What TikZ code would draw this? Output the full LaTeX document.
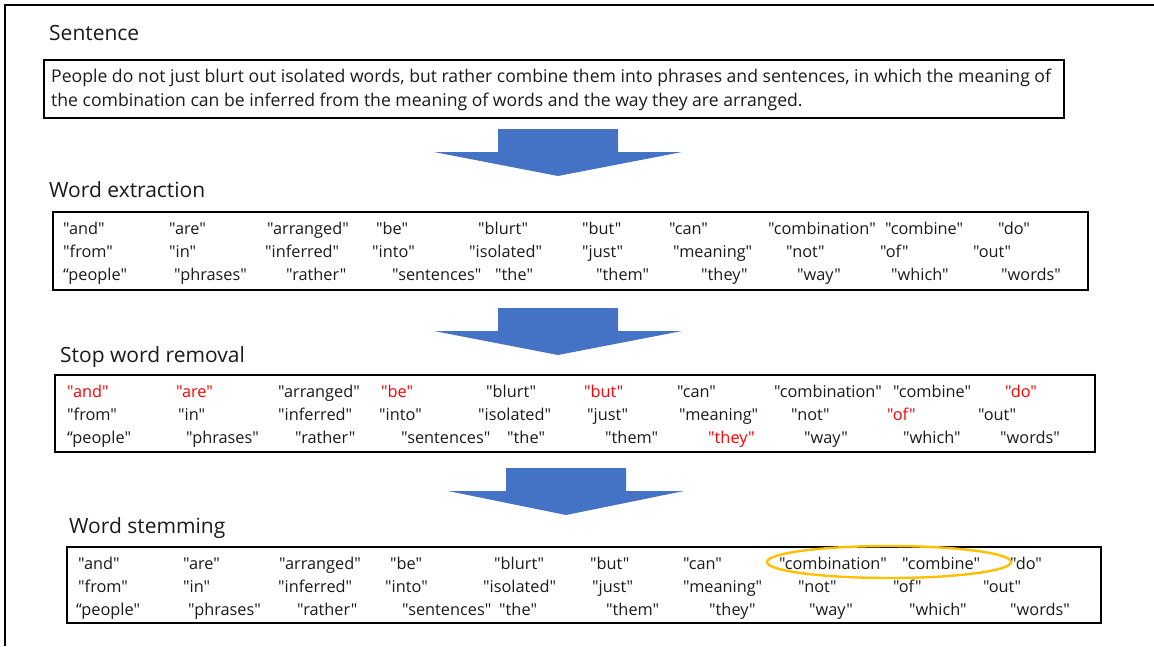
\documentclass[tikz,border=0pt]{standalone}
\usepackage{fontspec}
% a family without TeX ligatures keeps the ASCII " straight
\newfontfamily\diagfont{Open Sans}
\definecolor{arrowblue}{HTML}{4472C4}
\definecolor{stopred}{HTML}{FF0000}
\definecolor{ringgold}{HTML}{FFC000}
\definecolor{inkgray}{HTML}{1A1A1A}
\newcommand\wordrow[3]{%
  \foreach \px/\w [count=\k] in {#3}{\node[wd] (#1-\k) at (\px,#2) {\w};}}
\newcommand\stopw[1]{\textcolor{stopred}{#1}}
\begin{document}
\begin{tikzpicture}[x=1pt,y=-1pt,
  title/.style={anchor=base west, inner sep=0pt, text=inkgray, font=\diagfont\fontsize{21}{25}\selectfont},
  wd/.style={anchor=base west, inner sep=0pt, text=inkgray, font=\diagfont\fontsize{16.3}{19}\selectfont},
  sent/.style={anchor=base west, inner sep=0pt, text=inkgray, font=\diagfont\fontsize{17.6}{20}\selectfont},
  panel/.style={draw=black, line width=1.6pt},
  outer/.style={draw=black, line width=2pt},
  pics/blockarrow/.style={code={
    \fill[arrowblue] (-60,0) -- (60,0) -- (60,23) -- (#1,23) -- (0,47) -- (-#1,23) -- (-60,23) -- cycle;}}
]
\useasboundingbox (0,0) rectangle (1154,646);
% outer frame, open to the right and bottom
\draw[outer] (5,646) -- (5,5) -- (1154,5);

% ---- sentence ----
\node[title] (t1) at (49,40) {Sentence};
\draw[panel] (44,60) rectangle (1064,118);
\node[sent] (s1) at (51,82) {People do not just blurt out isolated words, but rather combine them into phrases and sentences, in which the meaning of};
\node[sent] (s2) at (51,106) {the combination can be inferred from the meaning of words and the way they are arranged.};

\pic at (558,129) {blockarrow=124};

% ---- word extraction ----
\node[title] (t2) at (49,197) {Word extraction};
\draw[panel] (53,212) rectangle (1088,290);
\wordrow{a1}{234}{63/"and",169/"are",267/"arranged",376/"be",478/"blurt",582/"but",669/"can",768/"combination",885/"combine",998/"do"}
\wordrow{a2}{257}{63/"from",169/"in",265/"inferred",372/"into",469/"isolated",582/"just",673/"meaning",786/"not",880/"of",973/"out"}
\wordrow{a3}{280}{63/“people",174/"phrases",286/"rather",392/"sentences",495/"the",596/"them",701/"they",797/"way",891/"which",1001/"words"}

\pic at (558,308) {blockarrow=124};

% ---- stop word removal ----
\node[title] (t3) at (60,362) {Stop word removal};
\draw[panel] (55,375) rectangle (1095,452);
\wordrow{b1}{397}{67/\stopw{"and"},176/\stopw{"are"},278/"arranged",381/\stopw{"be"},486/"blurt",584/\stopw{"but"},677/"can",774/"combination",893/"combine",1005/\stopw{"do"}}
\wordrow{b2}{420}{67/"from",178/"in",278/"inferred",379/"into",478/"isolated",587/"just",679/"meaning",791/"not",887/\stopw{"of"},978/"out"}
\wordrow{b3}{443}{67/“people",186/"phrases",295/"rather",401/"sentences",507/"the",605/"them",708/\stopw{"they"},804/"way",903/"which",1000/"words"}

\pic at (566,468) {blockarrow=118};

% ---- word stemming ----
\node[title] (t4) at (69,533) {Word stemming};
\draw[panel] (67,547) rectangle (1101,623);
\wordrow{c1}{569}{78/"and",183/"are",279/"arranged",390/"be",494/"blurt",590/"but",683/"can",779/"combination",902/"combine",1010/"do"}
\wordrow{c2}{592}{78/"from",183/"in",278/"inferred",385/"into",483/"isolated",592/"just",683/"meaning",798/"not",893/"of",983/"out"}
\wordrow{c3}{615}{76/“people",188/"phrases",297/"rather",402/"sentences",499/"the",606/"them",709/"they",809/"way",909/"which",1010/"words"}

% related forms circled
\draw[ringgold, line width=2.4pt] (889,562) ellipse [x radius=122, y radius=16];
\end{tikzpicture}
\end{document}
